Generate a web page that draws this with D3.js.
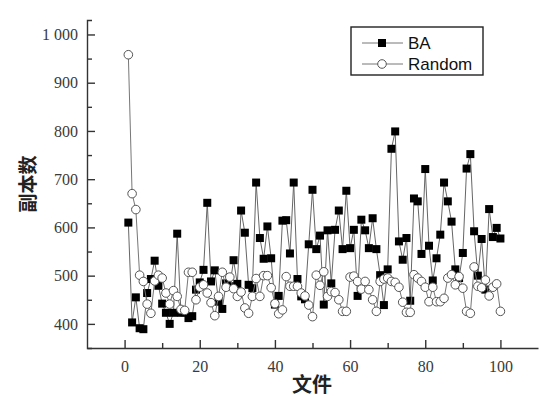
<!DOCTYPE html>
<html lang="zh">
<head>
  <meta charset="UTF-8">
  <title>副本数 - BA vs Random</title>
  <script src="https://d3js.org/d3.v7.min.js"></script>
  <style>
    body { margin: 0; background: #fff; }
    .axis path, .axis line { stroke: #333; stroke-width: 1.4; }
    .legend text { font-family: "Liberation Sans", Arial, sans-serif; font-size: 17px; fill: #111; }
  </style>
</head>
<body>
<script>
  // file index 1..100
  const files = d3.range(1, 101);

  const baValues = [
    610, 403, 455, 391, 389, 464, 493, 531, 479, 442,
    423, 400, 423, 587, 423, 424, 412, 416, 471, 486,
    512, 651, 488, 511, 446, 431, 484, 478, 532, 483,
    635, 589, 481, 474, 693, 578, 535, 602, 536, 440,
    458, 614, 615, 546, 693, 493, 457, 451, 565, 678,
    555, 583, 440, 594, 484, 595, 635, 555, 676, 557,
    595, 458, 616, 594, 557, 619, 555, 501, 439, 513,
    763, 799, 571, 533, 578, 448, 660, 654, 545, 721,
    562, 490, 536, 585, 693, 654, 612, 513, 495, 547,
    722, 752, 592, 500, 576, 471, 638, 580, 599, 577
  ];

  const randomValues = [
    958, 670, 637, 501, 488, 441, 422, 489, 501, 495,
    464, 441, 469, 457, 430, 428, 507, 507, 450, 476,
    481, 464, 444, 417, 457, 507, 476, 497, 473, 457,
    466, 433, 422, 457, 494, 457, 500, 500, 475, 442,
    421, 429, 498, 478, 478, 478, 464, 458, 439, 415,
    501, 480, 508, 457, 467, 465, 450, 426, 426, 497,
    499, 488, 472, 488, 471, 450, 426, 488, 493, 495,
    488, 486, 476, 445, 424, 424, 502, 495, 488, 476,
    446, 476, 446, 446, 453, 495, 502, 481, 498, 474,
    426, 422, 518, 478, 475, 491, 458, 476, 483, 426
  ];

  const xTicks = [0, 20, 40, 60, 80, 100];
  const yTicks = [400, 500, 600, 700, 800, 900, 1000];
  const seriesNames = ["BA", "Random"];

  const width = 540, height = 400;
  const svg = d3.select("body").append("svg")
    .attr("width", width)
    .attr("height", height);

  const x = d3.scaleLinear().domain([-10, 110]).range([87, 538]);
  const y = d3.scaleLinear().domain([350, 1030]).range([348, 20]);

  // minor ticks
  svg.append("g")
    .attr("class", "axis")
    .attr("transform", "translate(0,348)")
    .call(d3.axisBottom(x).tickValues(d3.range(10, 100, 20)).tickSize(-5).tickFormat(""))
    .call(g => g.select(".domain").remove());
  svg.append("g")
    .attr("class", "axis")
    .attr("transform", "translate(87,0)")
    .call(d3.axisLeft(y).tickValues(d3.range(450, 1001, 100)).tickSize(-5).tickFormat(""))
    .call(g => g.select(".domain").remove());

  // major axes, ticks pointing inward
  svg.append("g")
    .attr("class", "axis")
    .attr("transform", "translate(0,348)")
    .call(d3.axisBottom(x).tickValues(xTicks).tickSizeInner(-8).tickSizeOuter(0).tickPadding(13))
    .call(g => g.selectAll("text")
      .style("font-family", "'Liberation Serif', 'Times New Roman', serif")
      .style("font-size", "16px")
      .style("fill", "#3a3a3a"));

  svg.append("g")
    .attr("class", "axis")
    .attr("transform", "translate(87,0)")
    .call(d3.axisLeft(y).tickValues(yTicks).tickSizeInner(-8).tickSizeOuter(-5).tickPadding(9)
      .tickFormat(d => d === 1000 ? "1 000" : d))
    .call(g => g.selectAll("text")
      .style("font-family", "'Liberation Serif', 'Times New Roman', serif")
      .style("font-size", "16px")
      .style("fill", "#3a3a3a"));

  // axis titles
  svg.append("text")
    .attr("x", 312).attr("y", 392)
    .attr("text-anchor", "middle")
    .style("font-family", "'Noto Sans CJK SC', sans-serif")
    .style("font-size", "20px")
    .style("font-weight", "bold")
    .style("fill", "#222")
    .text("文件");

  svg.append("text")
    .attr("transform", "translate(35,184) rotate(-90)")
    .attr("text-anchor", "middle")
    .style("font-family", "'Noto Sans CJK SC', sans-serif")
    .style("font-size", "19px")
    .style("font-weight", "bold")
    .style("fill", "#222")
    .text("副本数");

  const line = d3.line()
    .x((d, i) => x(files[i]))
    .y(d => y(d));

  // BA series
  svg.append("path")
    .datum(baValues)
    .attr("fill", "none")
    .attr("stroke", "#666")
    .attr("stroke-width", 1)
    .attr("d", line);

  svg.append("g").selectAll("rect")
    .data(baValues)
    .join("rect")
    .attr("x", (d, i) => x(files[i]) - 4)
    .attr("y", d => y(d) - 4)
    .attr("width", 8)
    .attr("height", 8)
    .attr("fill", "#000");

  // Random series
  svg.append("path")
    .datum(randomValues)
    .attr("fill", "none")
    .attr("stroke", "#777")
    .attr("stroke-width", 1)
    .attr("d", line);

  svg.append("g").selectAll("circle")
    .data(randomValues)
    .join("circle")
    .attr("cx", (d, i) => x(files[i]))
    .attr("cy", d => y(d))
    .attr("r", 4.3)
    .attr("fill", "#fff")
    .attr("stroke", "#555")
    .attr("stroke-width", 1);

  // legend
  const legend = svg.append("g").attr("class", "legend");
  legend.append("rect")
    .attr("x", 351).attr("y", 27)
    .attr("width", 132).attr("height", 48)
    .attr("fill", "#fff")
    .attr("stroke", "#222")
    .attr("stroke-width", 1.4);

  seriesNames.forEach((name, k) => {
    const ly = 43 + k * 21;
    legend.append("line")
      .attr("x1", 362).attr("x2", 403)
      .attr("y1", ly).attr("y2", ly)
      .attr("stroke", "#777");
    if (k === 0) {
      legend.append("rect")
        .attr("x", 378).attr("y", ly - 4)
        .attr("width", 8).attr("height", 8)
        .attr("fill", "#000");
    } else {
      legend.append("circle")
        .attr("cx", 382).attr("cy", ly)
        .attr("r", 4.3)
        .attr("fill", "#fff")
        .attr("stroke", "#555");
    }
    legend.append("text")
      .attr("x", 408).attr("y", ly + 6)
      .text(name);
  });
</script>
</body>
</html>
